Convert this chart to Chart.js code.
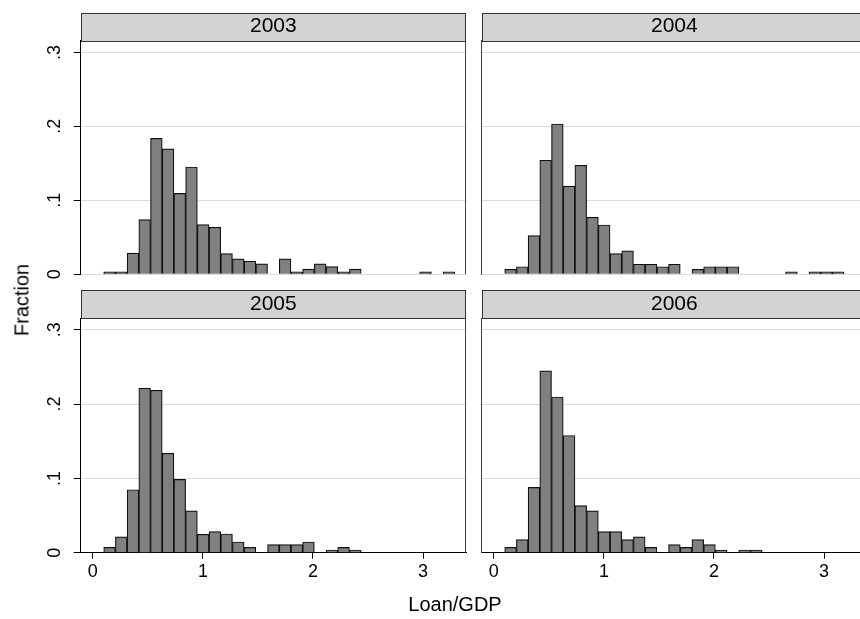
<!DOCTYPE html>
<html>
<head>
<meta charset="utf-8">
<script src="https://cdn.jsdelivr.net/npm/chart.js@4.4.1/dist/chart.umd.min.js"></script>
<style>
  html, body { margin: 0; padding: 0; background: #fff; overflow: hidden; }
  body { width: 860px; height: 619px; position: relative; font-family: "Liberation Sans", Arial, sans-serif; }
  canvas { position: absolute; }
  #ytitle { position: absolute; left: 22px; top: 300px; transform: translate(-50%, -50%) rotate(-90deg); font-size: 20px; white-space: nowrap; color: #000; }
  #xtitle { position: absolute; left: 455px; top: 604px; transform: translate(-50%, -50%); font-size: 20px; white-space: nowrap; color: #000; }
</style>
</head>
<body>
<canvas id="p2003" width="470" height="280" style="left:0;top:0"></canvas>
<canvas id="p2004" width="400" height="280" style="left:470px;top:0"></canvas>
<canvas id="p2005" width="470" height="315" style="left:0;top:280px"></canvas>
<canvas id="p2006" width="400" height="315" style="left:470px;top:280px"></canvas>
<div id="ytitle">Fraction</div>
<div id="xtitle">Loan/GDP</div>
<script>
// bin edges shared by all years (Loan/GDP)
var binStart = 0.099;
var binWidth = 0.1063;

// fraction of banks per bin
var frac2003 = [0.0035, 0.0035, 0.0286, 0.0739, 0.1837, 0.1696, 0.1093, 0.1451, 0.0671, 0.0635,
                0.0281, 0.0209, 0.0177, 0.0141, 0, 0.0209, 0.0035, 0.0069, 0.0141, 0.0104,
                0.0035, 0.0069, 0, 0, 0, 0, 0, 0.0035, 0, 0.0035];
var frac2004 = [0.0068, 0.0102, 0.0522, 0.1542, 0.2032, 0.1193, 0.1474, 0.0771, 0.0667, 0.0281,
                0.0317, 0.0136, 0.0136, 0.0102, 0.0136, 0, 0.0068, 0.0102, 0.0102, 0.0102,
                0, 0, 0, 0, 0.0034, 0, 0.0034, 0.0034, 0.0034];
var frac2005 = [0.0072, 0.0212, 0.0847, 0.2216, 0.2185, 0.1338, 0.0986, 0.0563, 0.0248, 0.0284,
                0.0252, 0.0144, 0.0072, 0, 0.0108, 0.0108, 0.0108, 0.0144, 0, 0.0036,
                0.0072, 0.0036];
var frac2006 = [0.0072, 0.0176, 0.0878, 0.2446, 0.2095, 0.1577, 0.0635, 0.0563, 0.0284, 0.0284,
                0.0176, 0.0212, 0.0072, 0, 0.0108, 0.0072, 0.0176, 0.0108, 0.0036, 0,
                0.0036, 0.0036];

var xTicks = [0, 1, 2, 3];
var yTicks = ['0', '.1', '.2', '.3'];

var FONT = '"Liberation Sans", Arial, sans-serif';

// grey strip behind the year + frame lines of each panel
var stripPlugin = {
  id: 'strip',
  beforeDraw: function (chart) {
    var ctx = chart.ctx, a = chart.chartArea, t = chart.titleBlock;
    var l = Math.round(a.left) + 0.5, r = Math.round(a.right) - 0.5;
    var top = Math.round(t.top) + 0.5, bot = Math.round(t.bottom) + 0.5;
    ctx.save();
    ctx.fillStyle = '#d3d3d3';
    ctx.fillRect(l, top, r - l, bot - top);
    ctx.strokeStyle = '#333';
    ctx.lineWidth = 1;
    ctx.strokeRect(l, top, r - l, bot - top);
    ctx.restore();
  },
  afterDraw: function (chart) {
    var ctx = chart.ctx, a = chart.chartArea;
    var r = Math.round(a.right) - 0.5;
    ctx.save();
    ctx.strokeStyle = '#404040';
    ctx.lineWidth = 1;
    ctx.beginPath();
    ctx.moveTo(r, a.top);
    ctx.lineTo(r, a.bottom);
    ctx.stroke();
    ctx.restore();
  }
};

function makePanel(id, year, values, isLeft, isBottom) {
  var points = values.map(function (v, i) {
    return { x: binStart + (i + 0.5) * binWidth, y: v === 0 ? null : v };
  });

  new Chart(document.getElementById(id), {
    type: 'bar',
    data: {
      datasets: [{
        data: points,
        backgroundColor: '#808080',
        borderColor: '#111',
        borderWidth: 1.2,
        barPercentage: 1,
        categoryPercentage: 1
      }]
    },
    options: {
      responsive: false,
      animation: false,
      layout: {
        padding: {
          top: isBottom ? 10 : 12.7,
          bottom: isBottom ? 0 : 5.7,
          left: isLeft ? 0 : 11.7,
          right: isLeft ? 4 : 3
        }
      },
      plugins: {
        legend: { display: false },
        tooltip: { enabled: false },
        title: {
          display: true,
          text: year,
          fullSize: false,
          color: '#000',
          font: { family: FONT, size: 21, weight: 'normal', lineHeight: '24px' },
          padding: { top: 2, bottom: 2 }
        }
      },
      scales: {
        x: {
          type: 'linear',
          min: -0.11,
          max: 3.39,
          offset: false,
          display: isBottom,
          afterFit: function (s) { if (isBottom) { s.height = 42.3; } },
          ticks: {
            stepSize: 1,
            includeBounds: false,
            color: '#000',
            padding: 3,
            font: { family: FONT, size: 18 },
            callback: function (v) { return xTicks.indexOf(v) >= 0 ? String(v) : ''; }
          },
          grid: { offset: false, drawOnChartArea: false, tickLength: 6, tickColor: '#000' },
          border: { color: '#000', width: 1 }
        },
        y: {
          min: 0,
          max: 0.3158,
          afterFit: function (s) {
            s.width = isLeft ? 80.7 : 0;
            s.paddingTop = 0;
            s.paddingBottom = 0;
          },
          ticks: {
            display: isLeft,
            stepSize: 0.1,
            includeBounds: false,
            minRotation: 90,
            maxRotation: 90,
            crossAlign: 'center',
            padding: 11,
            color: '#000',
            font: { family: FONT, size: 18 },
            callback: function (v) { return yTicks[Math.round(v * 10)]; }
          },
          grid: { color: '#dcdcdc', lineWidth: 1, tickColor: '#000', tickLength: 7, drawTicks: isLeft },
          border: { color: isLeft ? '#000' : '#404040', width: 1 }
        }
      }
    },
    plugins: [stripPlugin]
  });
}

makePanel('p2003', '2003', frac2003, true, false);
makePanel('p2004', '2004', frac2004, false, false);
makePanel('p2005', '2005', frac2005, true, true);
makePanel('p2006', '2006', frac2006, false, true);
</script>
</body>
</html>
